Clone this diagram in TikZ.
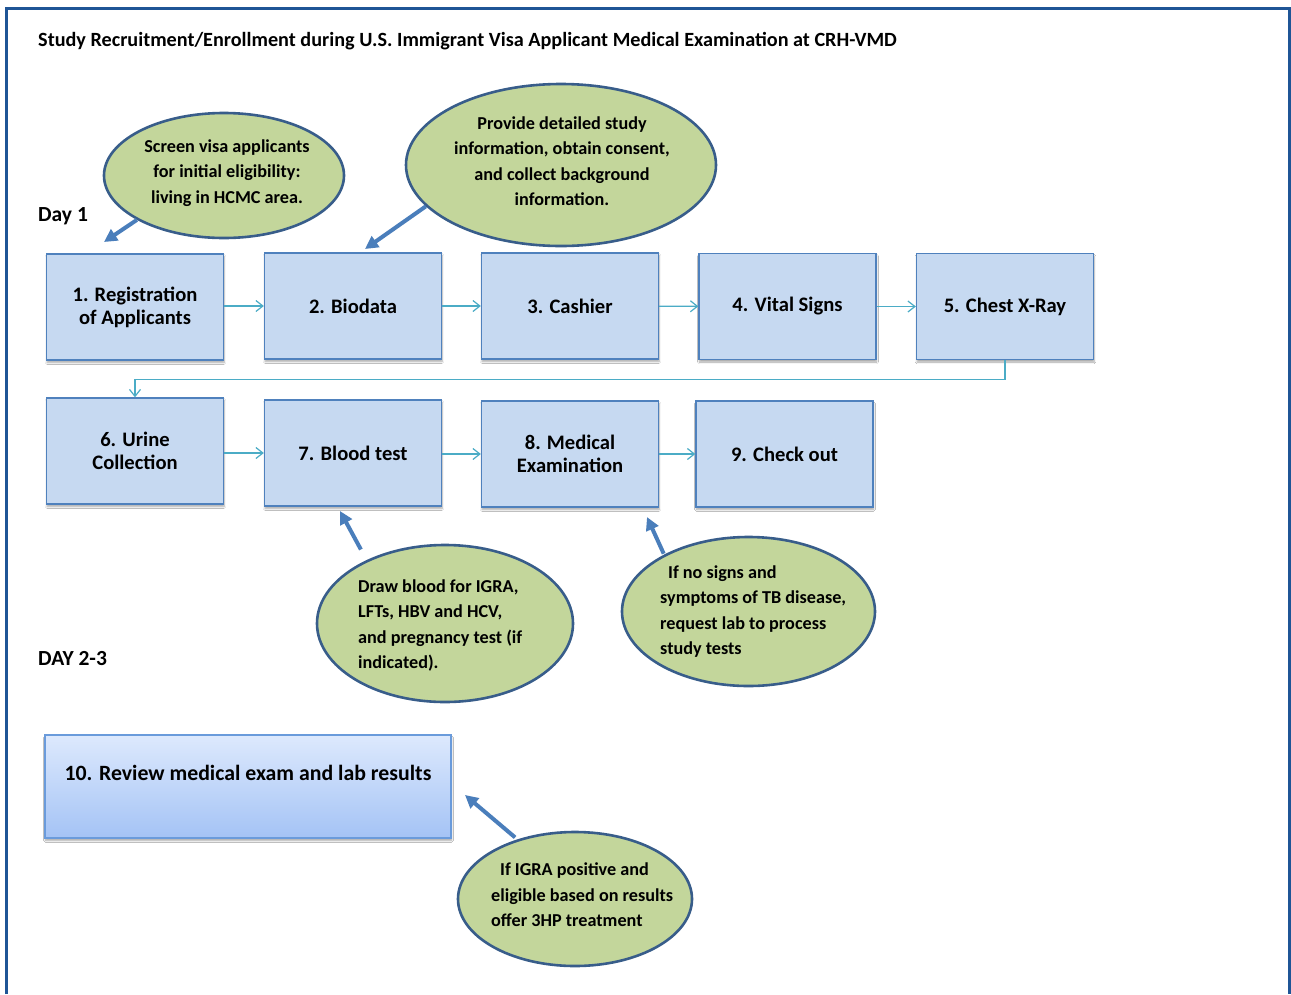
\documentclass[tikz,border=0pt]{standalone}
\usepackage{fontspec}
\setmainfont{Carlito}
\usetikzlibrary{shapes.geometric,arrows.meta,shadows.blur}

\definecolor{boxfill}{HTML}{C6D9F1}
\definecolor{boxline}{HTML}{4F81BD}
\definecolor{bubfill}{HTML}{C3D69B}
\definecolor{bubline}{HTML}{385D8A}
\definecolor{flow}{HTML}{4BACC6}
\definecolor{callout}{HTML}{4A7EBB}
\definecolor{framecol}{HTML}{1F5596}
\definecolor{revtop}{HTML}{DDE9FD}
\definecolor{revbot}{HTML}{A4C3F5}
\definecolor{revline}{HTML}{6A9BDB}

\begin{document}
\begin{tikzpicture}[x=1pt,y=-1pt,
  boxshadow/.style={blur shadow={shadow xshift=0.5pt, shadow yshift=-2.5pt, shadow opacity=35, shadow blur steps=6}},
  stepbox/.style={draw=boxline, line width=1.3pt, fill=boxfill, minimum width=177pt, minimum height=106pt,
    inner sep=0pt, align=center, font=\fontsize{20.6}{23}\selectfont\bfseries, boxshadow},
  bubble/.style={ellipse, draw=bubline, line width=2.6pt, fill=bubfill, inner sep=0pt},
  bubtext/.style={inner sep=0pt, font=\fontsize{18.2}{25.5}\selectfont\bfseries},
  flowline/.style={draw=flow, line width=1.2pt, -{Straight Barb[length=7pt,width=11pt,line width=1.2pt]}},
  fat/.style={draw=callout, line width=4pt, -{Triangle[length=13pt,width=13pt]}},
  daylabel/.style={anchor=west, inner sep=0pt, font=\fontsize{21.5}{24}\selectfont\bfseries}
]
\useasboundingbox (0,0) rectangle (1291,994);
\fill[white] (0,0) rectangle (1291,994);
\draw[framecol, line width=3pt] (6.5,994) -- (6.5,8) -- (1289,8) -- (1289,994);

% heading and day labels
\node[anchor=west, inner sep=0pt, font=\fontsize{20.2}{24}\selectfont\bfseries] (title) at (38,41.5)
  {Study Recruitment/Enrollment during U.S. Immigrant Visa Applicant Medical Examination at CRH-VMD};
\node[daylabel] (day1) at (38,216) {Day 1};
\node[daylabel] (day23) at (38,658.5) {DAY 2-3};

% day 1 steps
\node[stepbox] (b1) at (135,307) {1. Registration\\of Applicants};
\node[stepbox] (b2) at (353,306) {2. Biodata};
\node[stepbox] (b3) at (570,306) {3. Cashier};
\node[stepbox] (b4) at (787.5,306.5) {4. Vital Signs};
\node[stepbox] (b5) at (1005,306.5) {5. Chest X-Ray};

\node[stepbox] (b6) at (135,451) {6. Urine\\Collection};
\node[stepbox] (b7) at (353,453) {7. Blood test};
\node[stepbox] (b8) at (570,454) {8. Medical\\Examination};
\node[stepbox] (b9) at (784.5,454) {9. Check out};

% day 2-3 step
\node[draw=revline, line width=1.3pt, top color=revtop, bottom color=revbot, minimum width=406pt,
  minimum height=103pt, inner sep=0pt, boxshadow] (b10) at (248,786.5) {};
\node[inner sep=0pt, font=\fontsize{21.8}{24}\selectfont\bfseries] (b10t) at (248,772.5)
  {10. Review medical exam and lab results};

% flow between steps
\draw[flowline] (b1.east |- b2) -- (b2);
\draw[flowline] (b2) -- (b3);
\draw[flowline] (b3) -- (b4);
\draw[flowline] (b4) -- (b5);
\draw[flowline] (b5.south) -- ++(0,19) -| (b6.north);
\draw[flowline] (b6.east |- b7) -- (b7);
\draw[flowline] (b7.east |- b8) -- (b8);
\draw[flowline] (b8) -- (b9);

% notes
\node[bubble, minimum width=240pt, minimum height=125pt] (e1) at (224,175.5) {};
\node[bubtext, align=center] (e1t) at (227,173)
  {Screen visa applicants\\for initial eligibility:\\living in HCMC area.};

\node[bubble, minimum width=310pt, minimum height=162pt] (e2) at (561,165) {};
\node[bubtext, align=center] (e2t) at (562,161)
  {Provide detailed study\\information, obtain consent,\\and collect background\\information.};

\node[bubble, minimum width=256pt, minimum height=157pt] (e3) at (445,623.5) {};
\node[bubtext, align=left, anchor=west] (e3t) at (358,625.5)
  {Draw blood for IGRA,\\LFTs, HBV and HCV,\\and pregnancy test (if\\indicated).};

\node[bubble, minimum width=253pt, minimum height=149pt] (e4) at (748.5,611.5) {};
\node[bubtext, align=left, anchor=west] (e4t) at (660,611.5)
  {\hspace*{8pt}If no signs and\\symptoms of TB disease,\\request lab to process\\study tests};

\node[bubble, minimum width=234pt, minimum height=134pt] (e5) at (575,899) {};
\node[bubtext, align=left, anchor=west] (e5t) at (491,895)
  {\hspace*{9pt}If IGRA positive and\\eligible based on results\\offer 3HP treatment};

% callout arrows
\coordinate (t1) at (104,242);
\coordinate (t2) at (365,249);
\coordinate (t3) at (340,511);
\coordinate (t4) at (647,517);
\coordinate (t5) at (465,795);
\draw[fat] (e1.207) -- (t1);
\draw[fat] (e2.197) -- (t2);
\draw[fat, shorten <=12pt] (e3.141) -- (t3);
\draw[fat, shorten <=1pt] (e4.146) -- (t4);
\draw[fat, shorten <=3pt] (e5.134) -- (t5);
\end{tikzpicture}
\end{document}
